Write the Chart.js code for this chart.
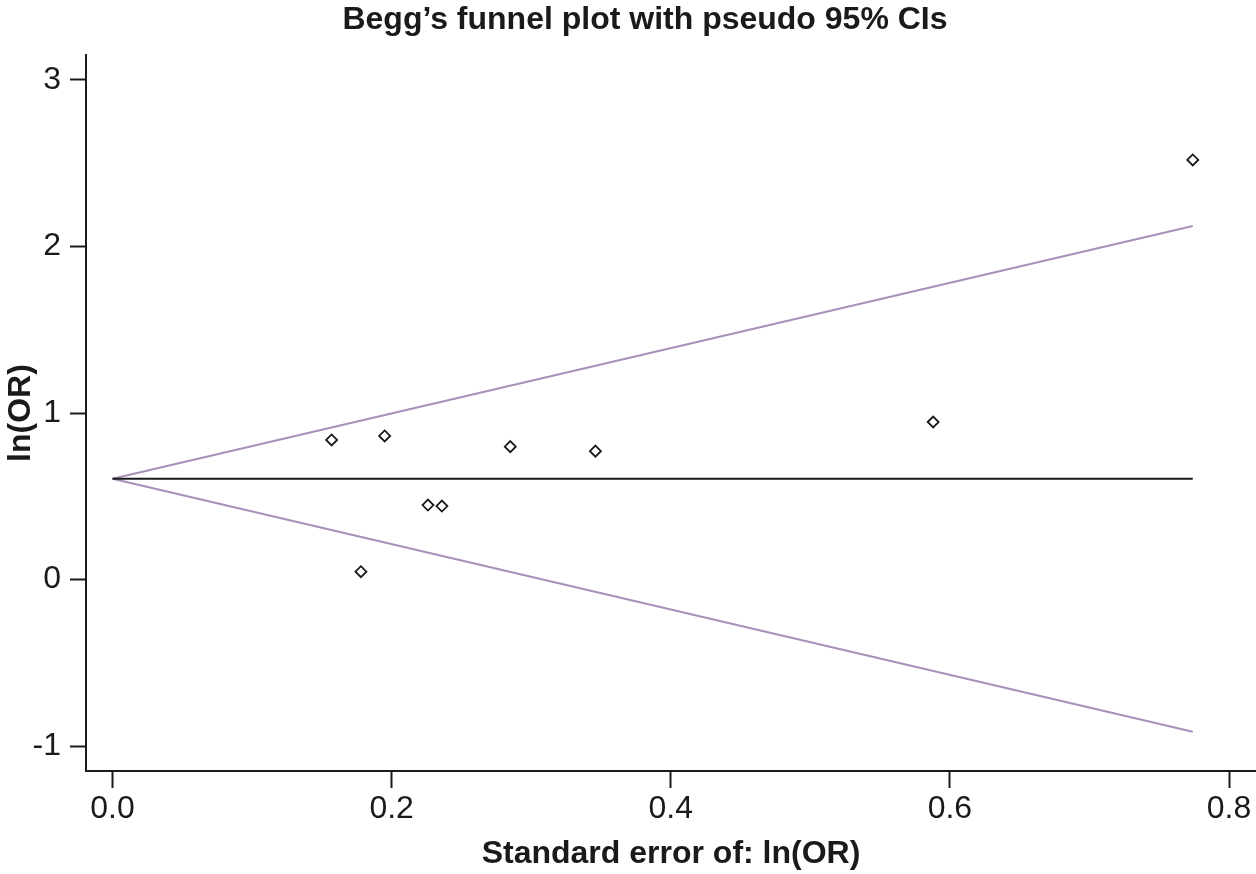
<!DOCTYPE html>
<html>
<head>
<meta charset="utf-8">
<script src="https://cdn.jsdelivr.net/npm/chart.js@4"></script>
<style>
  html, body { margin: 0; padding: 0; background: #fff; }
  #wrap { width: 1256px; height: 874px; }
</style>
</head>
<body>
<div id="wrap"><canvas id="funnel" width="1256" height="874"></canvas></div>
<script>
// study values
const seValues = [0.157, 0.178, 0.195, 0.226, 0.236, 0.285, 0.346, 0.588, 0.774];
const lnOR = [0.838, 0.047, 0.862, 0.447, 0.441, 0.798, 0.771, 0.946, 2.520];

// pooled estimate and pseudo 95% CI limits (end points of the lines)
const lineSE = [0, 0.774];
const pooled = [0.605, 0.605];
const upperCI = [0.605, 2.123];
const lowerCI = [0.605, -0.914];

const xTicks = [0, 0.2, 0.4, 0.6, 0.8];
const yTicks = [-1, 0, 1, 2, 3];

const FONT = '"Liberation Sans", Arial, Helvetica, sans-serif';
const INK = '#1a1a1a';
const FUNNEL = '#a890b9';

const toPoints = (xs, ys) => xs.map((x, i) => ({ x: x, y: ys[i] }));

// title drawn a bit left of the canvas centre, like the original
const titlePlugin = {
    id: 'beggTitle',
    afterDraw(chart) {
        const ctx = chart.ctx;
        ctx.save();
        ctx.font = 'bold 32px ' + FONT;
        ctx.fillStyle = INK;
        ctx.textAlign = 'center';
        ctx.textBaseline = 'alphabetic';
        ctx.fillText('Begg\u2019s funnel plot with pseudo 95% CIs', 645, 29);
        ctx.restore();
    }
};

new Chart(document.getElementById('funnel').getContext('2d'), {
    type: 'scatter',
    data: {
        datasets: [
            {
                label: 'Studies',
                data: toPoints(seValues, lnOR),
                pointStyle: 'rectRot',
                pointRadius: 5.5,
                pointBorderWidth: 1.8,
                borderColor: INK,
                backgroundColor: 'rgba(255,255,255,0)',
                showLine: false,
                order: 0
            },
            {
                label: 'Pooled',
                data: toPoints(lineSE, pooled),
                showLine: true,
                borderColor: INK,
                borderWidth: 2,
                pointRadius: 0,
                order: 1
            },
            {
                label: 'Upper',
                data: toPoints(lineSE, upperCI),
                showLine: true,
                borderColor: FUNNEL,
                borderWidth: 2.2,
                pointRadius: 0,
                order: 1
            },
            {
                label: 'Lower',
                data: toPoints(lineSE, lowerCI),
                showLine: true,
                borderColor: FUNNEL,
                borderWidth: 2.2,
                pointRadius: 0,
                order: 1
            }
        ]
    },
    options: {
        responsive: false,
        animation: false,
        layout: {
            autoPadding: false,
            padding: { top: 55, right: 0, bottom: 0, left: 0 }
        },
        plugins: {
            legend: { display: false },
            tooltip: { enabled: false },
            title: { display: false }
        },
        scales: {
            x: {
                type: 'linear',
                min: -0.019,
                max: 0.8193,
                afterBuildTicks: s => { s.ticks = xTicks.map(v => ({ value: v })); },
                afterFit: s => {
                    s.height = 103;
                    s.paddingLeft = 0;
                    s.paddingRight = 0;
                },
                ticks: {
                    callback: v => v.toFixed(1),
                    font: { family: FONT, size: 32 },
                    color: INK,
                    padding: 2,
                    maxRotation: 0
                },
                grid: {
                    drawOnChartArea: false,
                    drawTicks: true,
                    tickLength: 17,
                    tickWidth: 2,
                    tickColor: INK
                },
                border: { display: true, color: INK, width: 2 },
                title: {
                    display: true,
                    text: 'Standard error of: ln(OR)',
                    font: { family: FONT, size: 32, weight: 'bold' },
                    color: INK,
                    padding: { top: 0, bottom: 1 }
                }
            },
            y: {
                type: 'linear',
                min: -1.15,
                max: 3.15,
                afterBuildTicks: s => { s.ticks = yTicks.map(v => ({ value: v })); },
                afterFit: s => { s.width = 86; },
                ticks: {
                    callback: v => String(v),
                    font: { family: FONT, size: 32 },
                    color: INK,
                    padding: 9
                },
                grid: {
                    drawOnChartArea: false,
                    drawTicks: true,
                    tickLength: 16,
                    tickWidth: 2,
                    tickColor: INK
                },
                border: { display: true, color: INK, width: 2 },
                title: {
                    display: true,
                    text: 'ln(OR)',
                    font: { family: FONT, size: 32, weight: 'bold' },
                    color: INK,
                    padding: { top: 2, bottom: 0 }
                }
            }
        }
    },
    plugins: [titlePlugin]
});
</script>
</body>
</html>
